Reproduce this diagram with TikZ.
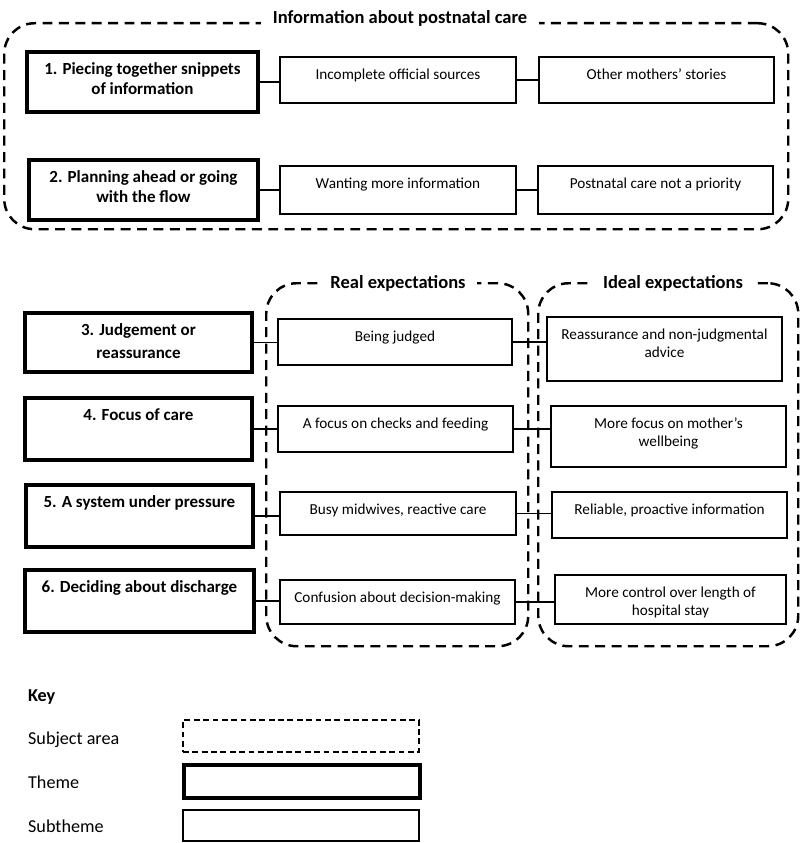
\documentclass[tikz,border=0pt]{standalone}
\usepackage{fontspec}
\setmainfont{Carlito}
\usetikzlibrary{positioning}

\newlength{\unitpx}
\setlength{\unitpx}{0.03cm}
% box content: width, height (px), text at the top
\newcommand{\toptext}[3]{\parbox[c][#2\unitpx][t]{#1\unitpx}{\centering\rule{0pt}{19pt}#3}}

\begin{document}
\begin{tikzpicture}[
    x=0.03cm, y=-0.03cm,
    theme/.style={draw, line width=3.3pt, inner sep=0pt, anchor=north west, font=\fontsize{14.5}{17.5}\selectfont\bfseries},
    subtheme/.style={draw, line width=1.7pt, inner sep=0pt, anchor=north west, font=\fontsize{13}{15.5}\selectfont},
    area/.style={draw, dashed, dash pattern=on 8.5pt off 5.5pt, line width=2.1pt, rounded corners=26pt, anchor=north west},
    areatitle/.style={fill=white, inner xsep=10pt, inner ysep=2pt, font=\fontsize{15.8}{18}\selectfont\bfseries},
    keylabel/.style={anchor=west, font=\fontsize{15.5}{18}\selectfont},
    link/.style={line width=1pt}
]
\useasboundingbox (0,0) rectangle (800,843);

% subject areas
\node[area, minimum width=784\unitpx, minimum height=206\unitpx] (info) at (3,22) {};
\node[areatitle] (infotitle) at (400,18) {Information about postnatal care};
\node[area, minimum width=262\unitpx, minimum height=363\unitpx] (real) at (265,282) {};
\node[areatitle] (realtitle) at (398,283) {Real expectations};
\node[area, minimum width=260\unitpx, minimum height=363\unitpx] (ideal) at (537,282) {};
\node[areatitle] (idealtitle) at (673,283) {Ideal expectations};

% themes 1-2
\node[theme] (t1) at (25,50) {\toptext{231}{60}{1. Piecing together snippets\\of information}};
\node[subtheme] (s1a) at (279,56) {\toptext{236}{46}{Incomplete official sources}};
\node[subtheme] (s1b) at (538,56) {\toptext{235}{46}{Other mothers’ stories}};

\node[theme] (t2) at (27,158) {\toptext{229}{60}{2. Planning ahead or going\\with the flow}};
\node[subtheme] (s2a) at (279,165) {\toptext{236}{48}{Wanting more information}};
\node[subtheme] (s2b) at (537,165) {\toptext{235}{48}{Postnatal care not a priority}};

% themes 3-6
\node[theme] (t3) at (23,311) {\toptext{227}{59}{3. Judgement or\\[2pt]reassurance}};
\node[subtheme] (s3a) at (277,318) {\toptext{234}{46}{Being judged}};
\node[subtheme] (s3b) at (546,316) {\toptext{235}{64}{Reassurance and non-judgmental\\advice}};

\node[theme] (t4) at (23,396) {\toptext{227}{62}{4. Focus of care}};
\node[subtheme] (s4a) at (277,405) {\toptext{235}{46}{A focus on checks and feeding}};
\node[subtheme] (s4b) at (550,405) {\toptext{235}{61}{More focus on mother’s\\wellbeing}};

\node[theme] (t5) at (24,483) {\toptext{227}{62}{5. A system under pressure}};
\node[subtheme] (s5a) at (279,491) {\toptext{236}{43}{Busy midwives, reactive care}};
\node[subtheme] (s5b) at (551,491) {\toptext{235}{46}{Reliable, proactive information}};

\node[theme] (t6) at (23,568) {\toptext{229}{62}{6. Deciding about discharge}};
\node[subtheme] (s6a) at (279,579) {\toptext{235}{44}{Confusion about decision-making}};
\node[subtheme] (s6b) at (554,574) {\toptext{231}{49}{More control over length of\\hospital stay}};

% connectors
\draw[link] (t1.east) -- (t1.east -| s1a.west);
\draw[link] (s1a.east) -- (s1a.east -| s1b.west);
\draw[link] (t2.east) -- (t2.east -| s2a.west);
\draw[link] (s2a.east) -- (s2a.east -| s2b.west);
\draw[link] (t3.east) -- (t3.east -| s3a.west);
\draw[link] (s3a.east) -- (s3a.east -| s3b.west);
\draw[link] (t4.east) -- (t4.east -| s4a.west);
\draw[link] (s4a.east) -- (s4a.east -| s4b.west);
\draw[link] (t5.east) -- (t5.east -| s5a.west);
\draw[link] (s5a.east) -- (s5a.east -| s5b.west);
\draw[link] (t6.east) -- (t6.east -| s6a.west);
\draw[link] (s6a.east) -- (s6a.east -| s6b.west);

% key
\node[keylabel, font=\fontsize{15.5}{18}\selectfont\bfseries] (key) at (24,697) {Key};
\node[keylabel] (karealabel) at (24,740) {Subject area};
\node[draw, dashed, dash pattern=on 5pt off 3pt, line width=1.7pt, inner sep=0pt, anchor=north west] (karea) at (182,719) {\toptext{236}{32}{}};
\node[keylabel] (kthemelabel) at (24,782) {Theme};
\node[theme] (ktheme) at (182,763) {\toptext{236}{33}{}};
\node[keylabel] (ksublabel) at (24,826) {Subtheme};
\node[subtheme] (ksub) at (182,809) {\toptext{236}{31}{}};
\end{tikzpicture}
\end{document}
